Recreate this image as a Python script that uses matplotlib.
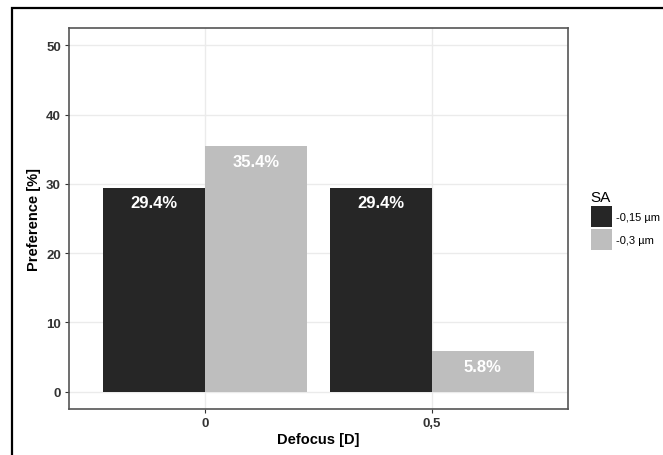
import matplotlib
matplotlib.use('Agg')
import matplotlib.pyplot as plt
from matplotlib.patches import Patch, Rectangle
import numpy as np

plt.rcParams['font.family'] = ['Liberation Sans', 'DejaVu Sans']

defocus = ['0', '0,5']
series_names = ['-0,15 µm', '-0,3 µm']
pref_015 = [29.4, 29.4]
pref_03 = [35.4, 5.8]
colors = ['#262626', '#bebebe']

fig = plt.figure(figsize=(6.63, 4.56), dpi=100)
ax = fig.add_axes([0.1045, 0.1009, 0.7518, 0.8355])

x = np.arange(1, len(defocus) + 1)
w = 0.45
for i, (vals, name) in enumerate(zip([pref_015, pref_03], series_names)):
    pos = x - w / 2 + i * w
    bars = ax.bar(pos, vals, width=w, color=colors[i], label=name, zorder=2)
    for b, v in zip(bars, vals):
        ax.annotate(f'{v}%', (b.get_x() + b.get_width() / 2, v),
                    xytext=(0, -10.5), textcoords='offset points',
                    ha='center', va='center', color='white',
                    fontsize=12, fontweight='bold', zorder=3)

ax.set_xlim(0.4, 2.6)
ax.set_ylim(-2.5, 52.5)
ax.set_xticks(x)
ax.set_xticklabels(defocus)
ax.set_yticks(range(0, 51, 10))
ax.grid(True, color='#ebebeb', lw=1.0, zorder=0)
ax.set_axisbelow(True)
for s in ax.spines.values():
    s.set_color('#555555')
    s.set_linewidth(1.2)
ax.tick_params(length=3, width=0.8, color='#333333', pad=3,
               labelsize=9.5, labelcolor='#333333')
for lab in ax.get_xticklabels() + ax.get_yticklabels():
    lab.set_fontweight('bold')

ax.set_xlabel('Defocus [D]', fontsize=10.5, fontweight='bold', labelpad=2)
ax.set_ylabel('Preference [%]', fontsize=10.5, fontweight='bold', labelpad=4)

handles = [Patch(facecolor=c, edgecolor='none', label=n)
           for c, n in zip(colors, series_names)]
leg = fig.legend(handles=handles, title='SA', loc='upper left',
                 bbox_to_anchor=(583 / 663, 1 - 183 / 456), frameon=False,
                 fontsize=8, title_fontsize=11, handlelength=1.9,
                 handleheight=2.5, labelspacing=0.2, handletextpad=0.4,
                 borderpad=0.2)
leg._legend_box.align = 'left'

fig.patches.append(Rectangle((11.5 / 663, -0.1), 1.2, 1.1 - 8.5 / 456,
                             transform=fig.transFigure, fill=False,
                             lw=1.6, ec='black'))

fig.savefig('out.png', dpi=100)
